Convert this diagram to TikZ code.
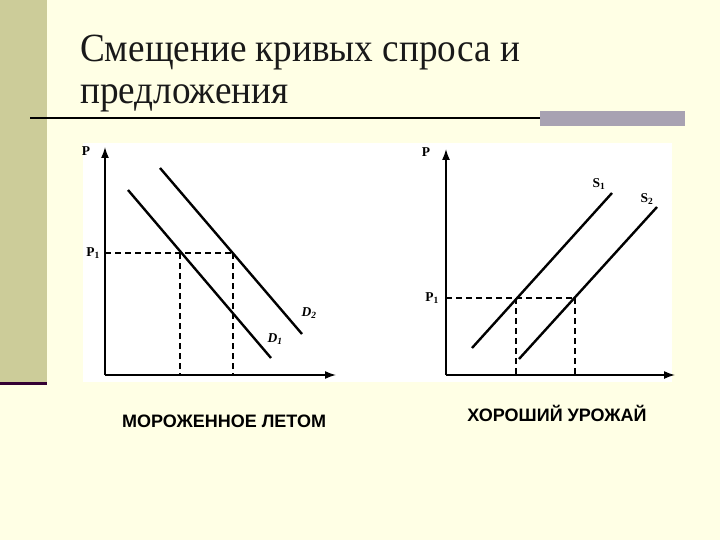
\documentclass[tikz,border=0pt]{standalone}
\usepackage{fontspec}
\setmainfont{Liberation Serif}
\setsansfont{Liberation Sans}
\usepackage{tikz}
\usetikzlibrary{calc, positioning, arrows.meta}

\definecolor{fon}{HTML}{FFFFE5}
\definecolor{polosa}{HTML}{CCCC99}
\definecolor{liniya}{HTML}{330033}
\definecolor{plashka}{HTML}{A8A2B2}

\begin{document}
\begin{tikzpicture}[>={Latex[length=11pt,width=8pt]}, x=1pt, y=-1pt,
    os/.style={line width=1.5pt, ->},
    krivaya/.style={line width=2.4pt},
    punktir/.style={line width=1.1pt, dash pattern=on 6pt off 4pt},
    metka/.style={font=\bfseries\fontsize{13.5}{13.5}\selectfont, inner sep=1pt},
    podpis/.style={font=\sffamily\bfseries\fontsize{18}{18}\selectfont}]
    % 1. Фон слайда
    \fill[fon] (0,0) rectangle (720,540);
    \fill[polosa] (0,0) rectangle (47,382);
    \fill[liniya] (0,382) rectangle (47,385);
    \fill[white] (83,143) rectangle (672,382);

    % 2. Заголовок
    \node[anchor=base west, inner sep=0pt, text=black!90, xscale=0.93,
        font=\fontsize{40}{42}\selectfont] (zag1) at (80,62)
        {Смещение кривых спроса и};
    \node[anchor=base west, inner sep=0pt, text=black!90, xscale=0.93,
        font=\fontsize{40}{42}\selectfont] (zag2) at (80,104)
        {предложения};
    \draw[line width=2pt] (30,118) -- (540,118);
    \fill[plashka] (540,111) rectangle (685,126);

    % 3. Спрос: оси
    \coordinate (o1) at (105,375);
    \draw[os] (o1) -- (105,147);
    \draw[os] (o1) -- (336,375);
    \node[metka] (p1os) at (86,151) {P};

    % 4. Кривые D1 и D2
    \coordinate (d1a) at (128,190);
    \coordinate (d1b) at (271,358);
    \coordinate (d2a) at (160,168);
    \coordinate (d2b) at (302,334);
    \draw[krivaya] (d1a) -- (d1b);
    \draw[krivaya] (d2a) -- (d2b);
    \node[metka, font=\bfseries\itshape\fontsize{13.5}{13.5}\selectfont] (d1) at (275,339) {D\textsubscript{1}};
    \node[metka, font=\bfseries\itshape\fontsize{13.5}{13.5}\selectfont] (d2) at (309,313) {D\textsubscript{2}};

    % 5. Цена P1 и объемы
    \coordinate (a1) at (180,253);
    \coordinate (a2) at (233,253);
    \node[metka] (cena1) at (93,253) {P\textsubscript{1}};
    \draw[punktir] (105,253) -- (a2);
    \draw[punktir] (a1) -- (a1 |- o1);
    \draw[punktir] (a2) -- (a2 |- o1);

    % 6. Предложение: оси
    \coordinate (o2) at (446,375);
    \draw[os] (o2) -- (446,149);
    \draw[os] (o2) -- (675,375);
    \node[metka] (p2os) at (426,152) {P};

    % 7. Кривые S1 и S2
    \coordinate (s1a) at (472,348);
    \coordinate (s1b) at (612,193);
    \coordinate (s2a) at (519,359);
    \coordinate (s2b) at (657,207);
    \draw[krivaya] (s1a) -- (s1b);
    \draw[krivaya] (s2a) -- (s2b);
    \node[metka] (s1) at (599,184) {S\textsubscript{1}};
    \node[metka] (s2) at (647,199) {S\textsubscript{2}};

    % 8. Цена P1 и объемы
    \coordinate (b1) at (516,298);
    \coordinate (b2) at (575,298);
    \node[metka] (cena2) at (432,298) {P\textsubscript{1}};
    \draw[punktir] (446,298) -- (b2);
    \draw[punktir] (b1) -- (b1 |- o2);
    \draw[punktir] (b2) -- (b2 |- o2);

    % 9. Подписи
    \node[podpis] (leto) at (224,421) {МОРОЖЕННОЕ ЛЕТОМ};
    \node[podpis] (urozhaj) at (557,413) {ХОРОШИЙ УРОЖАЙ};
\end{tikzpicture}
\end{document}
